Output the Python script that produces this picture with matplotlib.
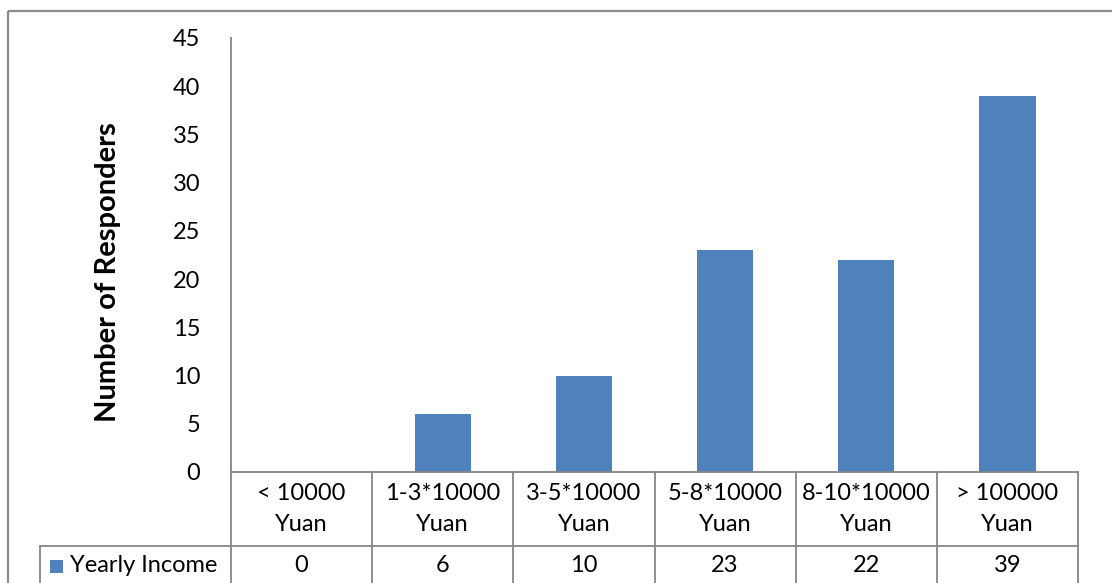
import matplotlib.pyplot as plt
from matplotlib.patches import Rectangle
import matplotlib.transforms as mtransforms

plt.rcParams["font.family"] = ["Lato", "DejaVu Sans"]

# Chart data
categories = ["< 10000\nYuan", "1-3*10000\nYuan", "3-5*10000\nYuan",
              "5-8*10000\nYuan", "8-10*10000\nYuan", "> 100000\nYuan"]
responders = [0, 6, 10, 23, 22, 39]
series_name = "Yearly Income"
yticks = [0, 5, 10, 15, 20, 25, 30, 35, 40, 45]

bar_color = "#4F81BD"
line_color = "#868686"
fs = 17

W, H = 1112, 583
fig = plt.figure(figsize=(W / 100, H / 100), dpi=100)

# outer chart border
fig.patches.append(Rectangle((8 / W, 1 - 11 / H), 1.2, -1.2, transform=fig.transFigure,
                             fill=False, edgecolor="#8c8c8c", linewidth=1.6))

ax = fig.add_axes([231 / W, 1 - 472 / H, (1078 - 231) / W, (472 - 38) / H])
x = list(range(len(categories)))
ax.bar(x, responders, width=0.4, color=bar_color)
ax.set_xlim(-0.5, len(categories) - 0.5)
ax.set_ylim(0, 45)
ax.set_yticks(yticks)
ax.tick_params(axis="y", length=0, labelsize=fs, pad=22)
ax.set_xticks([])
for s in ["top", "right"]:
    ax.spines[s].set_visible(False)
for s in ["left", "bottom"]:
    ax.spines[s].set_color(line_color)
    ax.spines[s].set_linewidth(1.3)

fig.text(108 / W, 1 - 272 / H, "Number of Responders", rotation=90, fontsize=21,
         fontweight="bold", ha="center", va="center")

# data table below the axis
trans = mtransforms.blended_transform_factory(ax.transData, fig.transFigure)
row1_bot = 1 - 546 / H
tbl_bot = -0.05
for i in range(len(categories) + 1):
    ax.plot([i - 0.5, i - 0.5], [1 - 472 / H, tbl_bot], transform=trans,
            color=line_color, lw=1.3, clip_on=False)
ftrans = fig.transFigure
ax.plot([40 / W, 1078 / W], [row1_bot, row1_bot], transform=ftrans,
        color=line_color, lw=1.3, clip_on=False)
ax.plot([40 / W, 40 / W], [row1_bot, tbl_bot], transform=ftrans,
        color=line_color, lw=1.3, clip_on=False)

for i, (cat, val) in enumerate(zip(categories, responders)):
    ax.text(i, 1 - 509 / H, cat, transform=trans, ha="center", va="center",
            fontsize=fs, linespacing=1.6)
    ax.text(i, 1 - 566 / H, str(val), transform=trans, ha="center", va="center",
            fontsize=fs)

fig.patches.append(Rectangle((50 / W, 1 - 573 / H), 13 / W, 13 / H, transform=ftrans,
                             facecolor=bar_color, edgecolor="none"))
fig.text(70 / W, 1 - 566 / H, series_name, fontsize=fs, ha="left", va="center")

plt.savefig("out.png", dpi=100)
